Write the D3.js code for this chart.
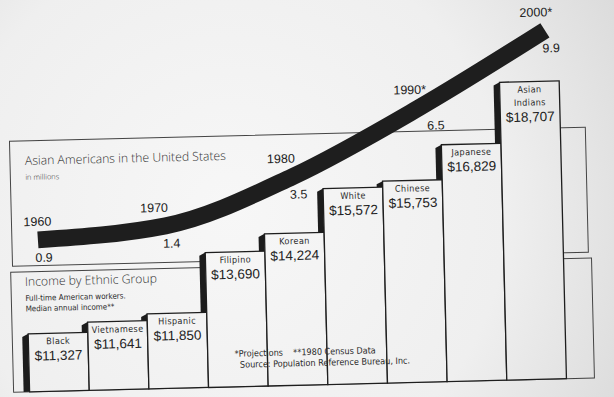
<!DOCTYPE html>
<html>
<head>
<meta charset="utf-8">
<script src="https://cdn.jsdelivr.net/npm/d3@7"></script>
<style>
  html, body { margin: 0; padding: 0; background: #e9e9e9; }
  svg { display: block; }
  .title { font-family: "Open Sans", "Liberation Sans", sans-serif; font-weight: 300; fill: #333; }
  .narrow { font-family: "Liberation Sans Narrow", "DejaVu Sans Condensed", sans-serif; fill: #2a2a2a; }
  .num { font-family: "Liberation Sans", Arial, sans-serif; fill: #222; }
</style>
</head>
<body>
<div class="svg-container"></div>
<script>
// income by ethnic group (1980 census)
const categories = ["Black", "Vietnamese", "Hispanic", "Filipino", "Korean", "White", "Chinese", "Japanese", "Asian Indians"];
const incomes = [11327, 11641, 11850, 13690, 14224, 15572, 15753, 16829, 18707];

// Asian Americans in the US, millions
const years = [1960, 1970, 1980, 1990, 2000];
const population = [0.9, 1.4, 3.5, 6.5, 9.9];
const yearLabels = ["1960", "1970", "1980", "1990*", "2000*"];
const popLabels = ["0.9", "1.4", "3.5", "6.5", "9.9"];

let width = 614,
  height = 397;

let svg = d3.select(".svg-container").append("svg")
  .attr("width", width)
  .attr("height", height);

// paper background
let defs = svg.append("defs");
let grad = defs.append("radialGradient")
  .attr("id", "paper")
  .attr("gradientUnits", "userSpaceOnUse")
  .attr("cx", 230).attr("cy", 210).attr("r", 460);
grad.append("stop").attr("offset", "0%").attr("stop-color", "#f7f7f7");
grad.append("stop").attr("offset", "60%").attr("stop-color", "#efefef");
grad.append("stop").attr("offset", "100%").attr("stop-color", "#d9d9d9");

svg.append("rect")
  .attr("width", width)
  .attr("height", height)
  .style("fill", "url(#paper)");

// the photo is a little tilted
let g = svg.append("g")
  .attr("transform", "rotate(-1.4, 307, 200)");

// panel frames
g.append("rect")
  .attr("x", 11).attr("y", 134)
  .attr("width", 576).attr("height", 125)
  .style("fill", "none").style("stroke", "#444").style("stroke-width", 1);

g.append("rect")
  .attr("x", 9).attr("y", 265)
  .attr("width", 581).attr("height", 120)
  .style("fill", "none").style("stroke", "#444").style("stroke-width", 1);

// panel titles
g.append("text").attr("class", "title")
  .attr("x", 26).attr("y", 158)
  .style("font-size", "12.2px")
  .text("Asian Americans in the United States");
g.append("text").attr("class", "title")
  .attr("x", 26).attr("y", 173)
  .style("font-size", "7.5px")
  .text("in millions");

g.append("text").attr("class", "title")
  .attr("x", 23).attr("y", 279)
  .style("font-size", "12.2px")
  .text("Income by Ethnic Group");
g.append("text").attr("class", "narrow")
  .attr("x", 23).attr("y", 294)
  .style("font-size", "8px")
  .text("Full-time American workers.");
g.append("text").attr("class", "narrow")
  .attr("x", 23).attr("y", 304.5)
  .style("font-size", "8px")
  .text("Median annual income**");

// bar scales
const xBar = d3.scaleBand()
  .domain(categories)
  .range([25, 562])
  .paddingInner(0);

const yBar = d3.scaleLinear()
  .domain([9540, 18707])
  .range([385, 87]);

const bars = categories.map((c, i) => ({ name: c, value: incomes[i] }));
const side = 6;

// dark side faces first, then the fronts cover them
g.selectAll(".side")
  .data(bars)
  .enter()
  .append("path")
  .attr("class", "side")
  .attr("d", d => {
    let x0 = xBar(d.name), top = yBar(d.value), base = yBar.range()[0];
    return "M" + (x0 - side) + "," + (top + 3) + "L" + x0 + "," + top +
      "L" + x0 + "," + base + "L" + (x0 - side) + "," + base + "Z";
  })
  .style("fill", "#1c1c1c");

g.selectAll(".front")
  .data(bars)
  .enter()
  .append("rect")
  .attr("class", "front")
  .attr("x", d => xBar(d.name))
  .attr("y", d => yBar(d.value))
  .attr("width", xBar.bandwidth())
  .attr("height", d => yBar.range()[0] - yBar(d.value))
  .style("fill", "url(#paper)")
  .style("stroke", "#1e1e1e")
  .style("stroke-width", 1.3);

// bar labels
bars.forEach(d => {
  let cx = xBar(d.name) + xBar.bandwidth() / 2;
  let top = yBar(d.value);
  let lines = d.name.split(" ");
  lines.forEach((t, j) => {
    g.append("text").attr("class", "narrow")
      .attr("x", cx).attr("y", top + 11 + j * 13)
      .attr("text-anchor", "middle")
      .style("font-size", "9px")
      .style("letter-spacing", "0.4px")
      .text(t);
  });
  g.append("text").attr("class", "num")
    .attr("x", cx).attr("y", top + 27 + (lines.length - 1) * 13)
    .attr("text-anchor", "middle")
    .style("font-size", "13.5px")
    .text("$" + d3.format(",")(d.value));
});

// footnotes
g.append("text").attr("class", "narrow")
  .attr("x", 231).attr("y", 355)
  .style("font-size", "9px")
  .attr("xml:space", "preserve")
  .text("*Projections    **1980 Census Data");
g.append("text").attr("class", "narrow")
  .attr("x", 236).attr("y", 366)
  .style("font-size", "9px")
  .text("Source: Population Reference Bureau, Inc.");

// population band
const xPop = d3.scaleLinear()
  .domain([1960, 2000])
  .range([37, 549]);

const yPop = d3.scaleLinear()
  .domain([0, 10])
  .range([253, 34]);

const pts = years.map((y, i) => [y, population[i]]);

const line = d3.line()
  .x(d => xPop(d[0]))
  .y(d => yPop(d[1]))
  .curve(d3.curveMonotoneX);

g.append("path")
  .datum(pts)
  .attr("d", line)
  .style("fill", "none")
  .style("stroke", "#1e1e1e")
  .style("stroke-width", 17)
  .style("stroke-linecap", "butt");

// year and value labels
pts.forEach((d, i) => {
  let px = xPop(d[0]), py = yPop(d[1]);
  g.append("text").attr("class", "num")
    .attr("x", i == 0 ? px - 14 : px - 25)
    .attr("y", py - 14)
    .style("font-size", "12.5px")
    .text(yearLabels[i]);
  g.append("text").attr("class", "num")
    .attr("x", i == 3 ? px + 8 : px - 3)
    .attr("y", py + 22)
    .style("font-size", "12.5px")
    .text(popLabels[i]);
});
</script>
</body>
</html>
